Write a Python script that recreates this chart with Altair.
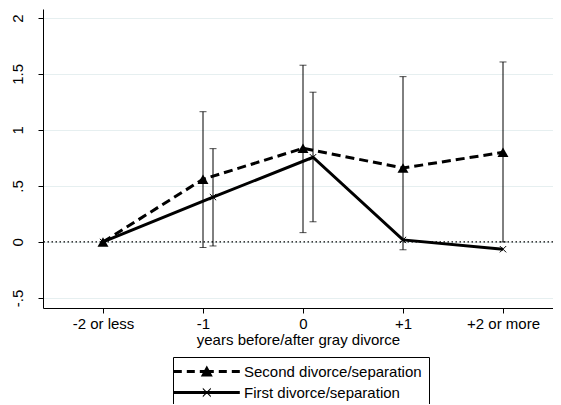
import altair as alt
import pandas as pd

# ---- data ----
categories = ["-2 or less", "-1", "0", "+1", "+2 or more"]
cat_pos = [0, 1, 2, 3, 4]

series_names = ["Second divorce/separation", "First divorce/separation"]

second_x = [0, 1, 2, 3, 4]
second_y = [0.0, 0.56, 0.836, 0.66, 0.80]

first_x = [0, 1.1, 2.1, 3, 4]
first_y = [0.0, 0.40, 0.756, 0.018, -0.065]

ci_x = [1, 1.1, 2, 2.1, 3, 4]
ci_lo = [-0.05, -0.036, 0.083, 0.18, -0.07, 0.0]
ci_hi = [1.163, 0.833, 1.578, 1.337, 1.476, 1.607]

y_ticks = [-0.5, 0, 0.5, 1, 1.5, 2]
y_tick_labels = ["-.5", "0", ".5", "1", "1.5", "2"]

# ---- tables ----
second_df = pd.DataFrame({"x": second_x, "y": second_y})
first_df = pd.DataFrame({"x": first_x, "y": first_y})
ci_df = pd.DataFrame({"x": ci_x, "lo": ci_lo, "hi": ci_hi})
zero_df = pd.DataFrame({"y": [0]})
key_df = pd.DataFrame({"key": series_names, "x": [second_x[0], first_x[0]],
                       "y": [second_y[0], first_y[0]]})

FONT = "Liberation Sans"
FS = 15

x_scale = alt.Scale(domain=[-0.6, 4.5], nice=False, zero=False)
y_scale = alt.Scale(domain=[-0.59, 2.08], nice=False, zero=False)

x_label_expr = "[" + ",".join("'%s'" % c for c in categories) + "][round(datum.value)]"
y_label_expr = "[" + ",".join("'%s'" % c for c in y_tick_labels) + "][round(datum.value*2)+1]"

x_enc = alt.X("x:Q", scale=x_scale, axis=alt.Axis(
    values=cat_pos, labelExpr=x_label_expr, title="years before/after gray divorce",
    grid=False, tickSize=5, tickColor="black", domainColor="black",
    labelColor="black", titleColor="black", labelFont=FONT, titleFont=FONT,
    labelFontSize=FS, titleFontSize=FS, titleFontWeight="normal",
    labelPadding=3, titlePadding=1, labelFlush=False))
y_axis = alt.Axis(
    values=y_ticks, labelExpr=y_label_expr, title=None, grid=True,
    gridColor="#e6eff0", gridWidth=1, tickSize=5, tickColor="black",
    domainColor="black", labelColor="black", labelFont=FONT, labelFontSize=FS,
    labelAngle=270, labelAlign="center", labelBaseline="middle", labelPadding=21,
    labelFlush=False)
y_enc = alt.Y("y:Q", scale=y_scale, axis=y_axis)

zero_line = alt.Chart(zero_df).mark_rule(
    color="black", strokeWidth=1.2, strokeDash=[1.5, 2.5]
).encode(y=alt.Y("y:Q", scale=y_scale))

ci_rules = alt.Chart(ci_df).mark_rule(color="black", strokeWidth=1).encode(
    x=alt.X("x:Q", scale=x_scale), y=alt.Y("lo:Q", scale=y_scale), y2="hi:Q")

ci_caps = alt.Chart(ci_df).transform_fold(["lo", "hi"], as_=["end", "v"]).mark_tick(
    orient="horizontal", color="black", thickness=1, size=7
).encode(x=alt.X("x:Q", scale=x_scale), y=alt.Y("v:Q", scale=y_scale))

line_second = alt.Chart(second_df).mark_line(
    color="black", strokeWidth=3, strokeDash=[9, 5]
).encode(x=x_enc, y=y_enc)

line_first = alt.Chart(first_df).mark_line(
    color="black", strokeWidth=3
).encode(x=alt.X("x:Q", scale=x_scale), y=alt.Y("y:Q", scale=y_scale))

tri_pts = alt.Chart(second_df).mark_point(
    shape="triangle-up", filled=True, color="black", size=120, opacity=1
).encode(x=alt.X("x:Q", scale=x_scale), y=alt.Y("y:Q", scale=y_scale))

cross_pts = alt.Chart(first_df).mark_point(
    shape="M-1,-1L1,1M-1,1L1,-1", filled=False, color="black", size=40,
    strokeWidth=1, opacity=1
).encode(x=alt.X("x:Q", scale=x_scale), y=alt.Y("y:Q", scale=y_scale))

# ---- legend key glyphs as custom (filled) symbol paths ----
SYM = 15.0            # sqrt(symbolSize): one path unit = SYM/2 px
UNIT = SYM / 2
ORIGIN = 13.7         # px from key's left end to the symbol origin

def u(px):
    return (px - ORIGIN) / UNIT

def v(py):
    return py / UNIT

def poly(pts):
    return "M" + "L".join("%.3f,%.3f" % (u(a), v(b)) for a, b in pts) + "Z"

def seg(a, b, half=1.5):
    return poly([(a, -half), (b, -half), (b, half), (a, half)])

mid = 33
leg_second = (seg(0, 8) + seg(13, 21) + seg(26, 40) + seg(45, 53) + seg(58, 66)
              + poly([(mid - 6, 5), (mid, -6), (mid + 6, 5)]))
xs, w = 4.0, 0.75
leg_first = (seg(0, 66)
             + poly([(mid - xs, -xs - w), (mid + xs, xs - w),
                     (mid + xs, xs + w), (mid - xs, -xs + w)])
             + poly([(mid - xs, xs - w), (mid + xs, -xs - w),
                     (mid + xs, -xs + w), (mid - xs, xs + w)]))

legend_layer = alt.Chart(key_df).mark_point(
    filled=True, color="black", size=0
).encode(
    x=alt.X("x:Q", scale=x_scale), y=alt.Y("y:Q", scale=y_scale),
    shape=alt.Shape("key:N", scale=alt.Scale(domain=series_names,
                                             range=[leg_second, leg_first]),
                    legend=alt.Legend(
                        title=None, orient="none", legendX=130, legendY=348,
                        direction="vertical", symbolSize=SYM * SYM,
                        symbolFillColor="black", symbolStrokeColor="black",
                        symbolStrokeWidth=0, symbolOpacity=1,
                        labelFont=FONT, labelFontSize=FS, labelColor="black",
                        labelOffset=49, rowPadding=5, padding=7,
                        strokeColor="black", fillColor="white",
                        labelLimit=400)))

chart = alt.layer(
    zero_line, ci_rules, ci_caps, line_second, line_first, tri_pts, cross_pts,
    legend_layer
).properties(
    width=510, height=299,
    padding={"left": 35, "top": 1, "right": 0, "bottom": 96},
    autosize="none", background="white"
).configure_view(stroke=None)

chart.save("out.html", embed_options={"renderer": "svg", "actions": False})
